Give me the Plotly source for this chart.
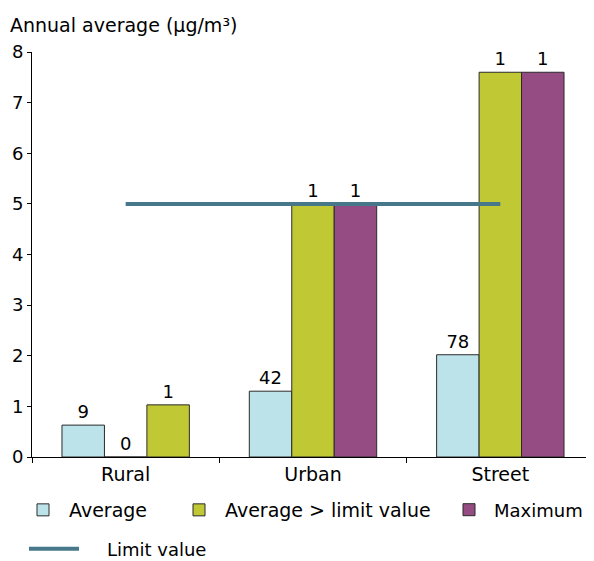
import plotly.graph_objects as go

categories = ["Rural", "Urban", "Street"]
average = [0.63, 1.30, 2.02]
above_limit = [0, 5.0, 7.6]
maximum = [1.03, 5.0, 7.6]
average_labels = ["9", "42", "78"]
above_labels = ["0", "1", "1"]
maximum_labels = ["1", "1", "1"]
limit_x = ["Rural", "Street"]
limit_y = [5, 5]

light_blue = "#bde3ea"
green = "#c0c934"
purple = "#954c82"
line_col = "#46788a"
font = "DejaVu Sans"

# page body adds an 8px margin, so the figure is drawn 8px smaller
W, H = 586, 553

outline = dict(color="#2a2a2a", width=1)

fig = go.Figure()
fig.add_trace(go.Bar(x=categories, y=average, name="Average", offsetgroup="a",
                     marker=dict(color=light_blue, line=outline), legend="legend",
                     text=average_labels, textposition="outside", cliponaxis=False))
fig.add_trace(go.Bar(x=categories, y=above_limit, name="Average > limit value",
                     offsetgroup="b", marker=dict(color=green, line=outline),
                     legend="legend2",
                     text=above_labels, textposition="outside", cliponaxis=False))
# the rural maximum bar is green in the original
fig.add_trace(go.Bar(x=categories, y=maximum, name="Maximum", offsetgroup="c",
                     marker=dict(color=[green, purple, purple], line=outline),
                     showlegend=False,
                     text=maximum_labels, textposition="outside", cliponaxis=False))
# legend-only entry for the maximum series (purple swatch)
fig.add_trace(go.Bar(x=[None], y=[None], name="Maximum", offsetgroup="c",
                     marker=dict(color=purple, line=outline), legend="legend3"))
fig.add_trace(go.Scatter(x=limit_x, y=limit_y, mode="lines",
                         name="\u00a0\u00a0\u00a0\u00a0Limit value",
                         line=dict(color=line_col, width=4), legend="legend4"))

fig.update_traces(textfont=dict(size=18, color="black"), selector=dict(type="bar"))


def leg(x, y, iw=42, size=19):
    return dict(x=x / W, xref="container", xanchor="left",
                y=1 - y / H, yref="container", yanchor="middle",
                font=dict(size=size), itemwidth=iw, bgcolor="rgba(0,0,0,0)")


fig.update_layout(
    width=W, height=H,
    margin=dict(l=24, r=0, t=44, b=104, autoexpand=False),
    plot_bgcolor="white", paper_bgcolor="white",
    font=dict(family=font, size=18, color="black"),
    barmode="group", bargap=0.32, bargroupgap=0,
    title=dict(text="Annual average (µg/m³)", x=2 / W, xanchor="left",
               y=1 - 17 / H, yanchor="middle", yref="container",
               font=dict(size=19, color="black")),
    xaxis=dict(showline=True, linecolor="black", linewidth=1, ticks="outside",
               tickson="boundaries", ticklen=5, tickcolor="black", showgrid=False,
               tickfont=dict(size=19)),
    yaxis=dict(range=[0, 8], dtick=1, showline=True, linecolor="black", linewidth=1,
               ticks="outside", ticklen=4, tickcolor="black", showgrid=False,
               zeroline=False),
    legend=leg(9, 502),
    legend2=leg(165, 502),
    legend3=leg(436, 502, iw=40, size=18),
    legend4=leg(16, 541, 50, size=18),
    showlegend=True,
)

fig.write_html("out.html")
